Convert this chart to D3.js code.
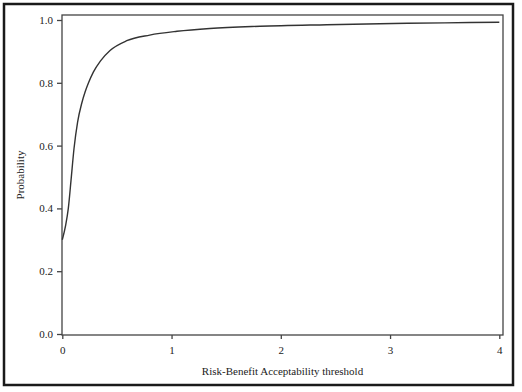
<!DOCTYPE html>
<html>
<head>
<meta charset="utf-8">
<script src="https://cdn.jsdelivr.net/npm/d3@7"></script>
<style>
  body { margin: 0; background: #fff; }
  svg { display: block; font-family: "Liberation Serif", "DejaVu Serif", serif; }
</style>
</head>
<body>
<div id="chart"></div>
<script>
// threshold values (x) and probability (y)
const thresholds = [0, 0.03, 0.055, 0.08, 0.107, 0.14, 0.178, 0.21, 0.24, 0.284, 0.35, 0.437, 0.59, 0.8, 1.05, 1.35, 1.81, 2.42, 3.03, 3.5, 4.0];
const probs      = [0.30, 0.345, 0.40, 0.49, 0.59, 0.675, 0.735, 0.772, 0.80, 0.834, 0.870, 0.903, 0.934, 0.952, 0.964, 0.973, 0.980, 0.985, 0.989, 0.991, 0.993];

const xTicks = [0, 1, 2, 3, 4];
const yTicks = [0, 0.2, 0.4, 0.6, 0.8, 1.0];

const width = 522;
const height = 392;

const svg = d3.select("#chart")
    .append("svg")
    .attr("width", width)
    .attr("height", height);

// outer border
svg.append("rect")
    .attr("x", 4)
    .attr("y", 4)
    .attr("width", 509)
    .attr("height", 381)
    .attr("fill", "none")
    .attr("stroke", "#1a1a1a")
    .attr("stroke-width", 2.5);

const frame = { left: 62, right: 503, top: 15, bottom: 335 };

const xScale = d3.scaleLinear()
    .domain([0, 4])
    .range([62.3, 499.3]);

const yScale = d3.scaleLinear()
    .domain([0, 1])
    .range([334, 20]);

// plot frame
svg.append("rect")
    .attr("x", frame.left)
    .attr("y", frame.top)
    .attr("width", frame.right - frame.left)
    .attr("height", frame.bottom - frame.top)
    .attr("fill", "none")
    .attr("stroke", "#444")
    .attr("stroke-width", 1.3);

const xAxis = d3.axisBottom(xScale)
    .tickValues(xTicks)
    .tickFormat(d3.format("d"))
    .tickSize(4)
    .tickPadding(7);

const yAxis = d3.axisLeft(yScale)
    .tickValues(yTicks)
    .tickFormat(d3.format(".1f"))
    .tickSize(5)
    .tickPadding(4);

const gx = svg.append("g")
    .attr("transform", `translate(0, ${frame.bottom})`)
    .call(xAxis);

const gy = svg.append("g")
    .attr("transform", `translate(${frame.left}, 0)`)
    .call(yAxis);

[gx, gy].forEach(g => {
    g.select(".domain").remove();
    g.selectAll(".tick line").attr("stroke", "#444").attr("stroke-width", 1.3);
    g.selectAll(".tick text")
        .attr("fill", "#222")
        .style("font-size", "11px")
        .style("font-family", "Liberation Serif, serif");
});

// curve
const line = d3.line()
    .x((d, i) => xScale(thresholds[i]))
    .y(d => yScale(d))
    .curve(d3.curveMonotoneX);

svg.append("path")
    .datum(probs)
    .attr("d", line)
    .attr("fill", "none")
    .attr("stroke", "#333")
    .attr("stroke-width", 1.4);

// axis titles
svg.append("text")
    .attr("x", (frame.left + frame.right) / 2)
    .attr("y", 375)
    .attr("text-anchor", "middle")
    .attr("fill", "#222")
    .style("font-size", "11px")
    .text("Risk-Benefit Acceptability threshold");

svg.append("text")
    .attr("transform", "rotate(-90)")
    .attr("x", -(frame.top + frame.bottom) / 2)
    .attr("y", 24)
    .attr("text-anchor", "middle")
    .attr("fill", "#222")
    .style("font-size", "11px")
    .text("Probability");
</script>
</body>
</html>
